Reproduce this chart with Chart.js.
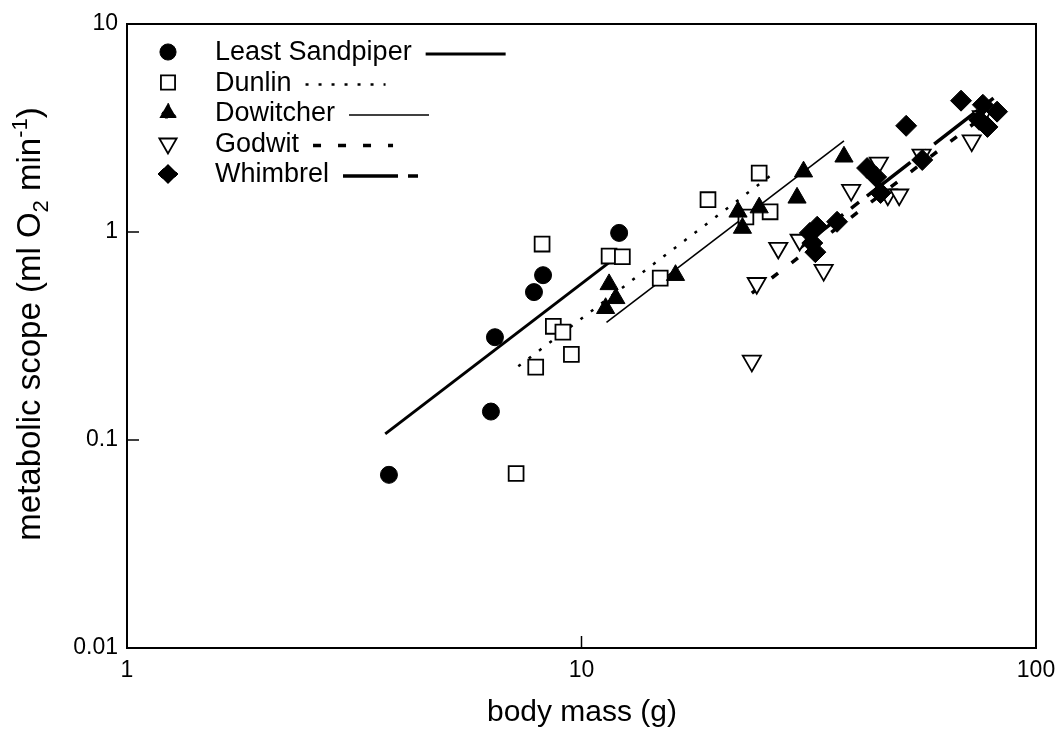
<!DOCTYPE html>
<html>
<head>
<meta charset="utf-8">
<script src="https://cdn.jsdelivr.net/npm/chart.js@4.4.1/dist/chart.umd.min.js"></script>
<style>
  html, body { margin: 0; padding: 0; background: #fff; }
  #wrap { width: 1060px; height: 745px; position: relative; }
</style>
</head>
<body>
<div id="wrap"><canvas id="myChart"></canvas></div>
<script>
"use strict";
// species names (legend order)
const speciesNames = ["Least Sandpiper", "Dunlin", "Dowitcher", "Godwit", "Whimbrel"];

// measured points: body mass (g) and metabolic scope (ml O2/min)
const sandpiperMass = [3.77, 6.32, 6.45, 7.86, 8.23, 12.1];
const sandpiperScope = [0.068, 0.137, 0.312, 0.514, 0.62, 0.99];
const dunlinMass = [7.18, 7.93, 8.19, 8.67, 9.1, 9.5, 11.5, 12.3, 14.9, 18.98, 23.0, 24.6, 26.0];
const dunlinScope = [0.069, 0.224, 0.875, 0.352, 0.33, 0.258, 0.766, 0.76, 0.6, 1.43, 1.18, 1.92, 1.25];
const dowitcherMass = [11.3, 11.5, 11.9, 16.1, 22.1, 22.6, 24.6, 29.8, 30.8, 37.8];
const dowitcherScope = [0.43, 0.56, 0.48, 0.62, 1.25, 1.045, 1.31, 1.46, 1.95, 2.30];
const godwitMass = [23.7, 24.3, 27.1, 30.2, 34.1, 39.2, 45.1, 47.2, 50.0, 56.0, 72.2, 76.0];
const godwitScope = [0.24, 0.567, 0.837, 0.915, 0.656, 1.59, 2.15, 1.51, 1.51, 2.35, 2.75, 3.6];
const whimbrelMass = [31.8, 32.2, 32.7, 33.0, 36.5, 42.5, 44.5, 45.5, 51.8, 56.2, 68.4, 75.0, 76.4, 78.2, 82.1];
const whimbrelScope = [0.99, 0.885, 0.80, 1.06, 1.12, 2.03, 1.84, 1.54, 3.24, 2.22, 4.28, 3.46, 4.09, 3.2, 3.79];

// fitted lines (end points)
const sandpiperFitMass = [3.7, 12.0];
const sandpiperFitScope = [0.107, 0.766];
const dunlinFitMass = [7.26, 26.0];
const dunlinFitScope = [0.226, 1.86];
const dowitcherFitMass = [11.35, 37.8];
const dowitcherFitScope = [0.368, 2.74];
const godwitFitMass = [23.7, 79.0];
const godwitFitScope = [0.508, 3.79];
const whimbrelFitMass = [30.2, 82.5];
const whimbrelFitScope = [0.837, 4.57];

// axis ticks
const xTicks = [1, 10, 100];
const yTicks = [0.01, 0.1, 1, 10];

const FONT = "'Liberation Sans', Arial, sans-serif";

// marker + line look per species
const markerStyles = [
    { pointStyle: "circle", radius: 8.5, rotation: 0, fill: "#000", borderWidth: 1 },
    { pointStyle: "rect", radius: 10.5, rotation: 0, fill: "#fff", borderWidth: 1.8 },
    { pointStyle: "triangle", radius: 10.5, rotation: 0, fill: "#000", borderWidth: 1 },
    { pointStyle: "triangle", radius: 10.5, rotation: 180, fill: "#fff", borderWidth: 1.8 },
    { pointStyle: "rectRot", radius: 10.5, rotation: 0, fill: "#000", borderWidth: 1 }
];
const lineStyles = [
    { width: 3, dash: [] },
    { width: 2.5, dash: [3, 10] },
    { width: 1.6, dash: [] },
    { width: 3.5, dash: [8, 17] },
    { width: 3.5, dash: [55, 10, 10, 10] }
];

function toPoints(xs, ys) {
    return xs.map((x, i) => ({ x: x, y: ys[i] }));
}

const pointSets = [
    toPoints(sandpiperMass, sandpiperScope),
    toPoints(dunlinMass, dunlinScope),
    toPoints(dowitcherMass, dowitcherScope),
    toPoints(godwitMass, godwitScope),
    toPoints(whimbrelMass, whimbrelScope)
];
const fitSets = [
    toPoints(sandpiperFitMass, sandpiperFitScope),
    toPoints(dunlinFitMass, dunlinFitScope),
    toPoints(dowitcherFitMass, dowitcherFitScope),
    toPoints(godwitFitMass, godwitFitScope),
    toPoints(whimbrelFitMass, whimbrelFitScope)
];

// whimbrel drawn on top, then the others; fit lines below the points
const datasets = [];
[4, 2, 0, 1, 3].forEach(i => {
    const m = markerStyles[i];
    datasets.push({
        label: speciesNames[i],
        data: pointSets[i],
        showLine: false,
        pointStyle: m.pointStyle,
        pointRadius: m.radius,
        pointHoverRadius: m.radius,
        pointRotation: m.rotation,
        pointBackgroundColor: m.fill,
        pointBorderColor: "#000",
        pointBorderWidth: m.borderWidth
    });
});
[4, 3, 2, 1, 0].forEach(i => {
    const l = lineStyles[i];
    datasets.push({
        label: speciesNames[i] + " fit",
        data: fitSets[i],
        showLine: true,
        pointRadius: 0,
        borderColor: "#000",
        borderWidth: l.width,
        borderDash: l.dash,
        borderCapStyle: "butt",
        fill: false
    });
});

// frame, inward ticks, axis titles and legend
const decorPlugin = {
    id: "decor",
    afterDraw(chart) {
        const ctx = chart.ctx;
        const a = chart.chartArea;
        const xs = chart.scales.x;
        const ys = chart.scales.y;
        ctx.save();
        ctx.strokeStyle = "#000";
        ctx.lineWidth = 2;
        ctx.setLineDash([]);
        ctx.strokeRect(a.left, a.top, a.right - a.left, a.bottom - a.top);
        ctx.lineWidth = 1.5;
        xTicks.slice(1, -1).forEach(v => {
            const px = xs.getPixelForValue(v);
            ctx.beginPath(); ctx.moveTo(px, a.bottom); ctx.lineTo(px, a.bottom - 12); ctx.stroke();
        });
        yTicks.slice(1, -1).forEach(v => {
            const py = ys.getPixelForValue(v);
            ctx.beginPath(); ctx.moveTo(a.left, py); ctx.lineTo(a.left + 12, py); ctx.stroke();
        });

        // x title
        ctx.fillStyle = "#000";
        ctx.font = "30px " + FONT;
        ctx.textAlign = "center";
        ctx.textBaseline = "alphabetic";
        ctx.fillText("body mass (g)", 582, 721);

        // y title with sub/superscript
        const parts = [
            { t: "metabolic scope (ml O", size: 33, dy: 0 },
            { t: "2", size: 22, dy: 8 },
            { t: " min", size: 33, dy: 0 },
            { t: "-1", size: 22, dy: -13 },
            { t: ")", size: 33, dy: 0 }
        ];
        let total = 0;
        parts.forEach(p => { ctx.font = p.size + "px " + FONT; p.w = ctx.measureText(p.t).width; total += p.w; });
        ctx.translate(40, 324);
        ctx.rotate(-Math.PI / 2);
        ctx.textAlign = "left";
        let cx = -total / 2;
        parts.forEach(p => {
            ctx.font = p.size + "px " + FONT;
            ctx.fillText(p.t, cx, p.dy);
            cx += p.w;
        });
        ctx.restore();

        // legend
        ctx.save();
        ctx.font = "27px " + FONT;
        ctx.textBaseline = "middle";
        ctx.fillStyle = "#000";
        ctx.strokeStyle = "#000";
        speciesNames.forEach((name, i) => {
            const y = 52 + i * 30.5;
            const m = markerStyles[i];
            ctx.save();
            ctx.fillStyle = m.fill;
            ctx.lineWidth = m.borderWidth;
            Chart.helpers.drawPoint(ctx, { pointStyle: m.pointStyle, radius: m.radius * 0.95, rotation: m.rotation, borderWidth: m.borderWidth }, 168, y);
            ctx.restore();
            ctx.fillText(name, 215, y + 1);
            const tx = 215 + ctx.measureText(name).width + 14;
            const l = lineStyles[i];
            ctx.lineWidth = l.width;
            ctx.setLineDash(l.dash);
            ctx.lineCap = "butt";
            ctx.beginPath(); ctx.moveTo(tx, y + 2); ctx.lineTo(tx + 80, y + 2); ctx.stroke();
        });
        ctx.restore();
    }
};

Chart.defaults.color = "#000";
Chart.defaults.font.family = FONT;

function chartMaken() {
    return new Chart("myChart", {
        type: "scatter",
        data: { datasets: datasets },
        options: {
            responsive: true,
            maintainAspectRatio: false,
            animation: false,
            layout: { padding: { top: 24, right: 24, left: 0, bottom: 0 } },
            plugins: { legend: { display: false }, tooltip: { enabled: false } },
            scales: {
                x: {
                    type: "logarithmic",
                    min: 1,
                    max: 100,
                    afterBuildTicks: s => { s.ticks = xTicks.map(v => ({ value: v })); },
                    afterFit: s => { s.height = 97; s.paddingRight = 0; s.paddingLeft = 0; },
                    grid: { display: false, drawTicks: false },
                    border: { display: false },
                    ticks: {
                        padding: 9,
                        font: { size: 23 },
                        maxRotation: 0,
                        callback: v => String(v)
                    }
                },
                y: {
                    type: "logarithmic",
                    min: 0.01,
                    max: 10,
                    afterBuildTicks: s => { s.ticks = yTicks.map(v => ({ value: v })); },
                    afterFit: s => { s.width = 127; s.paddingTop = 0; s.paddingBottom = 0; },
                    grid: { display: false, drawTicks: false },
                    border: { display: false },
                    ticks: {
                        padding: 9,
                        font: { size: 23 },
                        callback: v => String(v)
                    }
                }
            }
        },
        plugins: [decorPlugin]
    });
}
const chart = chartMaken();
</script>
</body>
</html>
